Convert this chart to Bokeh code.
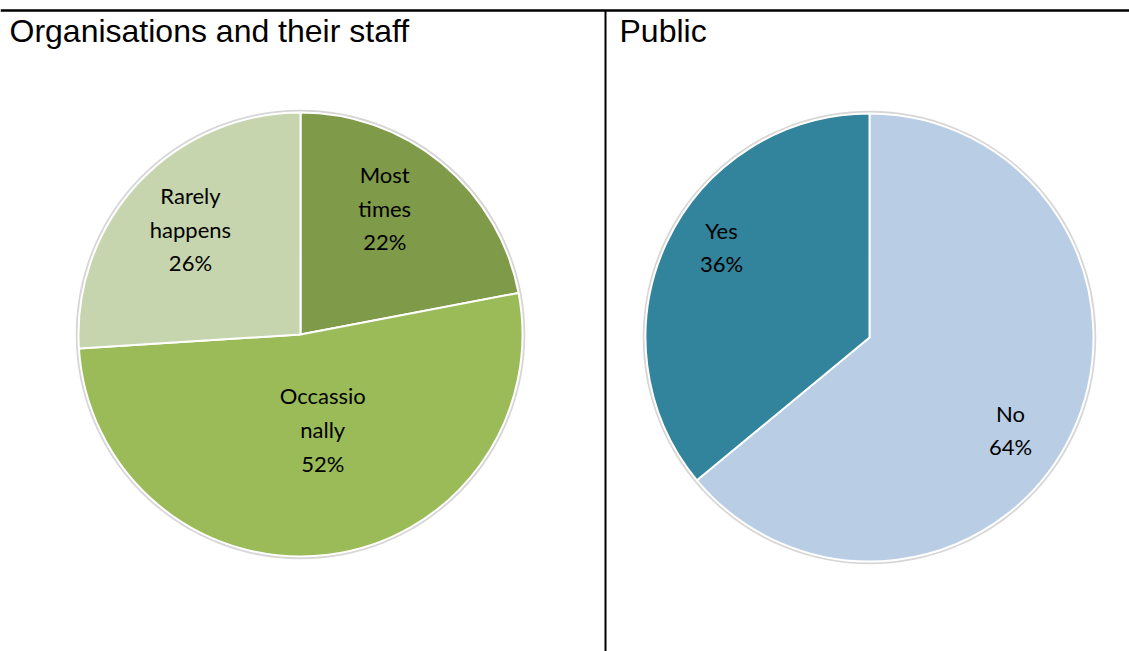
import math
from bokeh.plotting import figure
from bokeh.models import Range1d, ColumnDataSource
from bokeh.core.properties import value
from bokeh.embed import file_html
from bokeh.resources import INLINE

# ---- data ----
org_titles = "Organisations and their staff"
org_labels = ["Most\ntimes", "Occassio\nnally", "Rarely\nhappens"]
org_values = [22, 52, 26]
org_colors = ["#7F9A48", "#9BBB59", "#C6D5AE"]

pub_title = "Public"
pub_labels = ["No", "Yes"]
pub_values = [64, 36]
pub_colors = ["#B9CDE5", "#31849B"]

# ---- layout / style ----
W, H = 1129, 651
p = figure(width=W, height=H, output_backend="svg", toolbar_location=None,
           x_range=Range1d(0, W), y_range=Range1d(0, H), min_border=0)
p.axis.visible = False
p.grid.visible = False
p.outline_line_color = None
p.background_fill_color = "white"
p.border_fill_color = "white"

def Y(y_img):
    return H - y_img

# frame lines
p.line(x=[0, W], y=[Y(10), Y(10)], line_color="black", line_width=2.5)
p.line(x=[605, 605], y=[Y(10), Y(H)], line_color="black", line_width=2)

# titles
p.text(x=[9], y=[Y(30)], text=[org_titles], text_font=value("Liberation Sans"),
       text_font_size="32px", text_baseline="middle", text_color="black")
p.text(x=[619], y=[Y(30)], text=[pub_title], text_font=value("Liberation Sans"),
       text_font_size="32px", text_baseline="middle", text_color="black")


def pie(cx, cy_img, r, labels, values, colors, label_fracs, label_offsets):
    cy = Y(cy_img)
    total = float(sum(values))
    starts, ends, mids = [], [], []
    cum = 0.0
    for v in values:
        a0 = cum / total
        cum += v
        a1 = cum / total
        starts.append(math.pi / 2 - a0 * 2 * math.pi)
        ends.append(math.pi / 2 - a1 * 2 * math.pi)
        mids.append(math.pi / 2 - (a0 + a1) / 2 * 2 * math.pi)
    # soft outer edge
    p.circle(x=[cx], y=[cy], radius=r + 1.5, fill_color=None,
             line_color="#d6d6d6", line_width=2.5)
    src = ColumnDataSource(dict(x=[cx] * len(values), y=[cy] * len(values),
                                s=starts, e=ends, c=colors))
    p.wedge(x="x", y="y", radius=r, start_angle="s", end_angle="e",
            direction="clock", fill_color="c", line_color="white",
            line_width=2, source=src)
    lx, ly, lt = [], [], []
    for lab, v, m, f, (dx, dy) in zip(labels, values, mids, label_fracs, label_offsets):
        lx.append(cx + f * r * math.cos(m) + dx)
        ly.append(cy + f * r * math.sin(m) + dy)
        lt.append(f"{lab}\n{v}%")
    p.text(x=lx, y=ly, text=lt, text_font=value("Lato"), text_font_size="22px",
           text_align="center", text_baseline="middle", text_color="black",
           text_line_height=1.25)


pie(300, 334, 222, org_labels, org_values, org_colors,
    [0.68, 0.44, 0.68], [(-12, 10), (10, 2), (0, 2)])
pie(869, 337, 224, pub_labels, pub_values, pub_colors,
    [0.76, 0.76], [(-13, -20), (6, 18)])

open("out.html", "w").write(file_html(p, INLINE))
